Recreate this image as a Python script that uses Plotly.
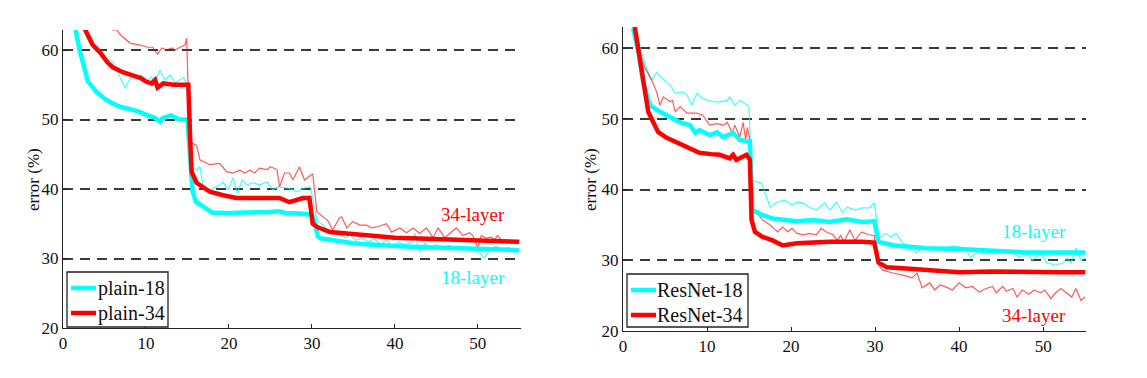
import plotly.graph_objects as go

# ---------------- data (x = iter. (1e4), y = error %) ----------------
# Left panel: plain networks
PLAIN18_TRAIN = [(2.4,63),(3,61.5),(4.1,59.7),(5.3,58.8),(6,58.3),(6.6,56.8),(7.5,54.5),(8.1,56),(8.9,55.7),(9.5,56.4),
                 (10.1,55.5),(10.7,56.1),(11.1,55.5),(11.7,57.1),(12.3,55.7),(12.9,56.4),(13.5,55.3),(14.5,56),(14.9,55.2),
                 (15.2,50),(15.5,43.2),(16.1,42.7),(16.5,43.2),(16.9,40.3),(17.7,39.9),(18.5,40.3),(19.3,41),(19.9,39.9),
                 (20.5,41.6),(21,39.4),(21.6,41.3),(22.2,40.6),(22.9,40.9),(23.7,40.6),(24.6,41),(25.3,39.9),(25.9,40.3),
                 (27.3,40.1),(28.2,39.6),(28.9,40.1),(29.8,40.3),(30.2,38),(30.6,35.5),(31.3,34.8),(32,34),(32.5,33.5),
                 (33.3,33.8),(34,33),(34.6,33.4),(35.3,32.6),(36,33),(36.8,32.4),(37.5,32.8),(38.3,32.1),(39,32.6),
                 (39.7,31.8),(40.5,32.4),(41.2,32),(42,32.3),(42.4,33.6),(43,30.9),(43.6,32.2),(44.3,31.6),(45,32),
                 (45.8,31.4),(46.5,31.9),(47.3,31.3),(48,31.8),(48.8,31.2),(49.5,31.6),(50.2,30.8),(50.8,30.1),
                 (51.5,31.3),(52.2,31.8),(53,31),(53.7,31.6),(54.4,30.9),(55,31.3)]
PLAIN34_TRAIN = [(5.9,62.9),(6.5,62.9),(6.9,62.2),(8.1,61),(9.3,60.7),(10.2,60.4),(10.8,60.4),(11.4,59.4),(11.9,60.3),
                 (12.5,60),(13.1,60.3),(13.5,60),(14.1,60.4),(14.7,60.7),(14.9,61.7),(15.2,50),(15.5,46.6),(16.1,46.3),
                 (16.5,44.2),(17.7,43.5),(18.9,43.7),(19.7,42.5),(20.5,42.3),(21.3,42.7),(21.9,42.3),(22.5,42.7),
                 (23.1,42.3),(23.7,43),(24.6,42.8),(25,43.2),(25.8,42.8),(26.1,40.3),(26.7,42.3),(27.3,42.3),(27.7,41.3),
                 (28.5,43.2),(29.1,41.3),(29.8,42),(30.1,42.2),(30.6,36.7),(31.3,36),(31.9,35.5),(32.5,34.1),(33.3,35.8),
                 (33.6,36),(34.2,34.4),(34.9,35.3),(35.8,34.8),(36.6,34.8),(37.2,34.4),(38,34.6),(39,35),(39.6,33.8),
                 (40.6,34.4),(41.4,33.7),(42.2,34.4),(43,33.6),(43.8,34.4),(44.6,33),(45.2,34.4),(46,33),(46.8,33.8),
                 (47.4,34.4),(48.2,33.3),(49,33.7),(49.4,33.3),(50,31.5),(50.4,33.3),(51,32.9),(51.6,33.1),(52,32.7),
                 (52.4,33.3),(53,32.4),(53.8,32.6),(54.6,32.5)]
PLAIN18_VAL = [(1.5,63),(2,60),(3,55.5),(4,54),(5,53),(6,52.3),(7,51.8),(8,51.5),(9,51.2),(10,50.7),(11,50.3),(11.7,49.7),
               (12,50.2),(13,50.6),(14,50),(15,50),(15.3,45),(15.6,39.8),(16,38.2),(17,37.3),(18,36.6),(19,36.6),(20,36.5),
               (21,36.6),(22,36.6),(23,36.7),(24,36.7),(25,36.7),(26,36.8),(27,36.5),(28,36.5),(29,36.4),(30,36.3),
               (30.4,35),(30.7,33.2),(31,32.9),(32,32.7),(33,32.5),(34,32.3),(35,32.2),(36,32.1),(37,32),(38,31.9),
               (39,31.8),(40,31.8),(42,31.7),(44,31.6),(46,31.5),(48,31.4),(50,31.3),(52,31.3),(54,31.2),(55,31.2)]
PLAIN34_VAL = [(2.65,63),(3.6,60.7),(4.5,59.6),(5.3,58.3),(6,57.5),(7.2,56.8),(8.3,56.4),(9.3,56),(10.1,55.4),(10.7,55.2),
               (11.1,55.7),(11.4,54.6),(12.1,55.2),(13.3,55),(14.7,55),(15.1,55),(15.3,48),(15.5,42.5),(16.1,40.9),
               (17.7,39.6),(19.3,39.1),(20.9,38.7),(22.9,38.7),(25,38.6),(26.1,38.7),(27.3,38.1),(28.9,38.7),(29.7,38.7),
               (30.1,35),(30.7,34.5),(32.2,33.8),(34.2,33.6),(36,33.4),(38,33.2),(40,33),(42,32.9),(44,32.8),(46,32.7),
               (48,32.6),(50,32.6),(52,32.5),(54,32.4),(55,32.4)]

# Right panel: residual networks
RES18_TRAIN = [(1.4,63),(2.3,59),(2.8,57.2),(3.4,55.5),(4,56.5),(4.6,55.8),(5.6,54.8),(6.2,53.6),(7,53.8),(7.6,53.4),
               (8.2,51.9),(8.8,53.6),(9.4,52.9),(10.1,52.6),(10.9,52.4),(11.5,52.4),(12.4,52.6),(12.7,53.1),(13.3,51.9),
               (13.9,52.6),(14.5,52.2),(15,51.7),(15.3,41.3),(16.5,40.9),(17.5,37.5),(18.3,38.2),(19.2,38.5),(20.1,37.8),
               (20.7,38.2),(21.4,38.1),(22.2,37.5),(23,37.1),(24,38.1),(24.6,37.1),(25.4,38.2),(26.1,36.8),(26.7,37.5),
               (27.6,37.1),(28.5,37.4),(29.3,37.4),(29.9,38.1),(30.5,33.1),(31.3,33.8),(31.9,33.3),(32.5,33.8),
               (33.3,32.4),(34.1,32.1),(34.9,31),(35.5,31.7),(36.1,31.6),(37.3,31.6),(38.5,31.7),(39.2,32),(40,31.9),
               (40.8,31.4),(41.4,30.4),(42,31),(43.2,31.1),(44.4,31),(45.4,31.4),(46.2,31.1),(47.2,30.4),(48,31.1),
               (48.7,30),(49.7,31),(50.4,29.7),(51.5,29.3),(52.3,29.6),(52.9,30.3),(53.3,29.6),(53.9,31.7),(54.5,30),
               (55,30.3)]
RES34_TRAIN = [(1.4,63),(2,59.4),(2.6,57.2),(3.4,55.5),(4,53.8),(4.4,51.9),(4.8,53.1),(5.6,52.4),(5.9,52.6),(6.2,51),
               (6.8,51.7),(7.6,50.8),(8.8,50.8),(9.5,50.5),(10.3,49.1),(11.2,49.3),(12,49.1),(12.4,49.5),(13,48),
               (13.3,49.1),(13.9,47.4),(14.3,49.5),(14.6,47),(14.8,48.8),(15.1,47),(15.3,37.5),(15.9,36.8),(16.6,35.7),
               (17.5,35),(18.4,34),(19,34.7),(19.6,34),(20.1,34.5),(20.7,33.8),(21.4,33.6),(22.2,33.8),(23,33.6),
               (23.6,34.5),(24.2,34),(25,33.6),(25.5,32.8),(25.9,33.5),(26.3,32.6),(27,34.3),(27.6,32.8),(28.4,34),
               (29.2,33.6),(29.9,33.5),(30.3,29.5),(30.9,28.6),(32.1,28.2),(33.3,27.9),(34.4,27.5),(35,28.2),(35.6,26.1),
               (36.5,26.8),(37.1,25.8),(37.7,26.5),(38.5,26.2),(39.2,25.8),(40,26.8),(40.8,26.1),(41.6,26.3),(42.4,25.5),
               (43.2,26),(44,26.3),(44.4,25.4),(45.2,26.3),(45.6,25.6),(46.4,26),(46.9,24.8),(47.5,25.8),(48.3,25.2),
               (48.9,25.8),(49.7,25.4),(50.2,25.8),(50.9,24.6),(51.5,25.4),(52.1,26),(52.7,25.4),(53.4,24.8),(53.9,26),
               (54.5,24.3),(55,24.8)]
RES18_VAL = [(1.2,62.8),(1.8,59.7),(2.4,55.2),(3.2,51.9),(4.4,51),(5.6,50.2),(6.8,49.5),(8,49.1),(8.6,48),(9.1,48.4),
             (10.3,47.7),(11.2,48.1),(11.9,47.4),(13.1,48),(13.9,47),(14.8,46.8),(15.1,46.8),(15.4,37.1),(16.6,36.4),
             (17.8,35.9),(19,35.7),(20.7,35.5),(22.6,35.7),(24.6,35.4),(26.6,35.8),(28.5,35.4),(29.9,35.5),(30.4,32.6),
             (32.3,32.1),(34.1,31.9),(36.1,31.7),(40,31.6),(43.9,31.3),(48,31.1),(51.9,31.1),(55,31.1)]
RES34_VAL = [(1.4,63),(2,58.6),(2.4,55.2),(3,51),(3.6,49.5),(4.2,48.1),(5.2,47.3),(6.4,46.6),(7.6,45.9),(9.1,45.2),
             (10.5,45),(11.5,44.9),(12.7,44.4),(13.1,44.9),(13.5,44.2),(14.3,44.6),(14.7,44.9),(15.1,44.2),(15.3,35.7),
             (15.7,34),(16.6,33.3),(17.8,32.8),(19,32.1),(20.7,32.4),(24.6,32.6),(28.5,32.6),(29.9,32.5),(30.4,29.7),
             (31.4,29),(34.1,28.8),(36.1,28.6),(40,28.3),(43.9,28.4),(48,28.3),(52,28.3),(55,28.3)]

X_TICKS = [0, 10, 20, 30, 40, 50]
Y_TICKS = [20, 30, 40, 50, 60]
LEGEND_LEFT = ["plain-18", "plain-34"]
LEGEND_RIGHT = ["ResNet-18", "ResNet-34"]
Y_TITLE = "error (%)"

# ---------------- styling ----------------
W, H = 1147, 378
SERIF = "Liberation Serif"
CYAN, RED = "#00FFFF", "#FF0000"
CYAN_T, RED_T = "rgba(0,255,255,0.75)", "rgba(255,0,0,0.65)"

def xs(p): return [a for a, _ in p]
def ys(p): return [b for _, b in p]
def px_x(p): return p / W
def px_y(p): return (H - p) / H

fig = go.Figure()

def add_panel(xa, ya, train18, train34, val18, val34, names):
    fig.add_trace(go.Scatter(x=xs(train18), y=ys(train18), mode="lines", xaxis=xa, yaxis=ya,
                             line=dict(color=CYAN_T, width=1.2), showlegend=False, hoverinfo="skip"))
    fig.add_trace(go.Scatter(x=xs(train34), y=ys(train34), mode="lines", xaxis=xa, yaxis=ya,
                             line=dict(color=RED_T, width=1.2), showlegend=False, hoverinfo="skip"))
    fig.add_trace(go.Scatter(x=xs(val18), y=ys(val18), mode="lines", xaxis=xa, yaxis=ya, name=names[0],
                             line=dict(color=CYAN, width=4.5), showlegend=False))
    fig.add_trace(go.Scatter(x=xs(val34), y=ys(val34), mode="lines", xaxis=xa, yaxis=ya, name=names[1],
                             line=dict(color=RED, width=4.5), showlegend=False))

add_panel("x", "y", PLAIN18_TRAIN, PLAIN34_TRAIN, PLAIN18_VAL, PLAIN34_VAL, LEGEND_LEFT)
add_panel("x2", "y2", RES18_TRAIN, RES34_TRAIN, RES18_VAL, RES34_VAL, LEGEND_RIGHT)

axis_common = dict(showline=True, linecolor="#222", linewidth=1, ticks="inside", ticklen=4,
                   tickcolor="#222", tickfont=dict(family=SERIF, size=17, color="#111"),
                   zeroline=False, mirror=False, automargin=False)
grid = dict(showgrid=True, gridcolor="#3a3a3a", gridwidth=1.5, griddash="10px,7px")

fig.update_layout(
    width=W, height=H, autosize=False,
    margin=dict(l=0, r=0, t=0, b=0, pad=0, autoexpand=False),
    font=dict(family=SERIF),
    paper_bgcolor="white", plot_bgcolor="white",
    showlegend=False,
    xaxis=dict(domain=[px_x(63), px_x(521)], range=[0, 55.2], tickvals=X_TICKS, anchor="y",
               showgrid=False, **axis_common),
    yaxis=dict(domain=[px_y(328), px_y(30)], range=[20, 62.88], tickvals=Y_TICKS, anchor="x",
               **grid, **axis_common),
    xaxis2=dict(domain=[px_x(623), px_x(1086)], range=[0, 55.1], tickvals=X_TICKS, anchor="y2",
                showgrid=False, **axis_common),
    yaxis2=dict(domain=[px_y(331), px_y(27)], range=[20, 62.97], tickvals=Y_TICKS, anchor="x2",
                **grid, **axis_common),
)

# ---- legend boxes (drawn as a framed key, like the original figure) ----
shapes, annotations = [], []
def add_key(box, rows_y, line_x, text_x, names):
    x0, y0, x1, y1 = box
    shapes.append(dict(type="rect", xref="paper", yref="paper", x0=px_x(x0), x1=px_x(x1),
                       y0=px_y(y1), y1=px_y(y0), line=dict(color="#222", width=1.3), fillcolor="white",
                       layer="above"))
    for name, ry, col in zip(names, rows_y, [CYAN, RED]):
        shapes.append(dict(type="line", xref="paper", yref="paper", x0=px_x(line_x[0]), x1=px_x(line_x[1]),
                           y0=px_y(ry), y1=px_y(ry), line=dict(color=col, width=4.5), layer="above"))
        annotations.append(dict(text=name, x=px_x(text_x), y=px_y(ry), xref="paper", yref="paper",
                                xanchor="left", yanchor="middle", showarrow=False,
                                font=dict(family=SERIF, size=20, color="#111")))

add_key((67, 272, 168, 327), (288, 313), (71, 96), 96, LEGEND_LEFT)
add_key((627, 274, 748, 327), (290, 315), (631, 656), 655, LEGEND_RIGHT)

ann_font = dict(family=SERIF, size=19)
annotations += [
    dict(text=Y_TITLE, x=px_x(33), y=px_y(180), xref="paper", yref="paper", textangle=-90,
         xanchor="center", yanchor="middle",
         showarrow=False, font=dict(family=SERIF, size=17, color="#111")),
    dict(text=Y_TITLE, x=px_x(590), y=px_y(180), xref="paper", yref="paper", textangle=-90,
         xanchor="center", yanchor="middle",
         showarrow=False, font=dict(family=SERIF, size=17, color="#111")),
    dict(text="34-layer", x=49.4, y=36.4, xref="x", yref="y", showarrow=False, font=dict(color=RED, **ann_font)),
    dict(text="18-layer", x=49.4, y=27.3, xref="x", yref="y", showarrow=False, font=dict(color=CYAN, **ann_font)),
    dict(text="18-layer", x=48.9, y=34.0, xref="x2", yref="y2", showarrow=False, font=dict(color=CYAN, **ann_font)),
    dict(text="34-layer", x=48.9, y=22.2, xref="x2", yref="y2", showarrow=False, font=dict(color=RED, **ann_font)),
]
fig.update_layout(shapes=shapes, annotations=annotations)

fig.write_html("out.html", config={"displayModeBar": False},
               post_script="document.body.style.margin='0';document.body.style.overflow='hidden';")
